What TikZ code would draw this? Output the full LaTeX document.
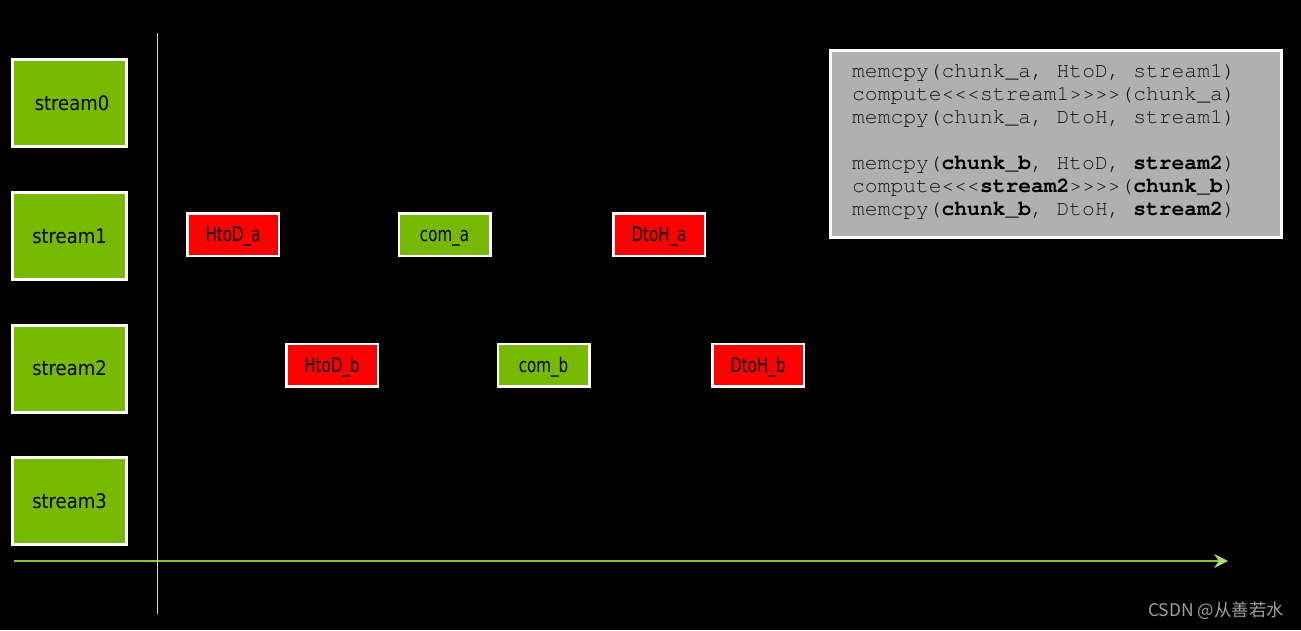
\documentclass[tikz,border=0pt]{standalone}
\usepackage{fontspec}
\usetikzlibrary{arrows.meta}
\newfontfamily\labelfont{DejaVu Sans Condensed}
\newfontfamily\tasklabelfont{DejaVu Sans Condensed}[FakeStretch=0.84]
\newfontfamily\codefont{TeX Gyre Cursor}
\newfontfamily\cjkfont{Noto Sans CJK SC}
\definecolor{nvgreen}{HTML}{76B900}
\definecolor{taskred}{HTML}{FF0000}
\definecolor{codebg}{HTML}{B0B0B0}
\definecolor{codegray}{HTML}{141414}
\definecolor{axisgreen}{HTML}{8CC63F}
\definecolor{tickgreen}{HTML}{C4EA86}
\definecolor{markgray}{HTML}{A0A0A0}
\tikzset{
  streambox/.style={draw=white, line width=3pt, fill=nvgreen, minimum width=114pt,
    minimum height=87pt, inner sep=0pt, font=\labelfont\fontsize{20}{24}\selectfont},
  taskbox/.style={draw=white, line width=2.5pt, minimum width=91.5pt,
    minimum height=42.5pt, inner sep=0pt, text height=14.5pt, text depth=0pt,
    font=\tasklabelfont\fontsize{20}{24}\selectfont},
  copybox/.style={taskbox, fill=taskred},
  computebox/.style={taskbox, fill=nvgreen},
  codeline/.style={anchor=base west, inner sep=0pt, text=codegray,
    font=\codefont\fontsize{21.3}{23}\selectfont},
}
\newcommand{\bk}[1]{\textbf{\color{black}#1}}
\begin{document}
\begin{tikzpicture}[x=1pt, y=-1pt]
  \fill[black] (0,0) rectangle (1301,630);
  \useasboundingbox (0,0) rectangle (1301,630);

  % time axis and stream separator
  \coordinate (axisL) at (14,561);
  \coordinate (axisR) at (1228,561);
  \draw[axisgreen, line width=1.5pt,
        -{Stealth[length=14pt, width=14pt, inset=5pt, color=tickgreen!60!axisgreen]}]
        (axisL) -- (axisR);
  \coordinate (sepT) at (157.5,33);
  \coordinate (sepB) at (157.5,614);
  \draw[tickgreen, line width=1pt] (sepT) -- (sepB);

  % streams
  \node[streambox] (s0) at (69.5,103) {\hspace*{5pt}stream0};
  \node[streambox] (s1) at (69.5,236) {stream1};
  \node[streambox] (s2) at (69.5,368.5) {stream2};
  \node[streambox] (s3) at (69.5,501) {stream3};

  % operations on stream1
  \node[copybox]    (hda) at (233,234.5) {HtoD\_a};
  \node[computebox] (cma) at (444.5,234.5) {com\_a};
  \node[copybox]    (dha) at (659,234.5) {DtoH\_a};

  % operations on stream2
  \node[copybox]    (hdb) at (332,365) {HtoD\_b};
  \node[computebox] (cmb) at (543.5,365) {com\_b};
  \node[copybox]    (dhb) at (758,365) {DtoH\_b};

  % code listing
  \node[draw=white, line width=3pt, fill=codebg, minimum width=451pt,
        minimum height=187pt, inner sep=0pt] (code) at (1056,144) {};
  \node[codeline] (c1) at (852,77)  {memcpy(chunk\_a, HtoD, stream1)};
  \node[codeline] (c2) at (852,100) {compute<{}<{}<stream1>{}>{}>{}>(chunk\_a)};
  \node[codeline] (c3) at (852,123) {memcpy(chunk\_a, DtoH, stream1)};
  \node[codeline] (c4) at (852,169) {memcpy(\bk{chunk\_b}, HtoD, \bk{stream2})};
  \node[codeline] (c5) at (852,192) {compute<{}<{}<\bk{stream2}>{}>{}>{}>(\bk{chunk\_b})};
  \node[codeline] (c6) at (852,215) {memcpy(\bk{chunk\_b}, DtoH, \bk{stream2})};

  % watermark
  \node[anchor=east, inner sep=0pt, text=markgray,
        font=\cjkfont\fontsize{17.4}{20}\selectfont] (mark) at (1284,611) {CSDN @从善若水};
\end{tikzpicture}
\end{document}
